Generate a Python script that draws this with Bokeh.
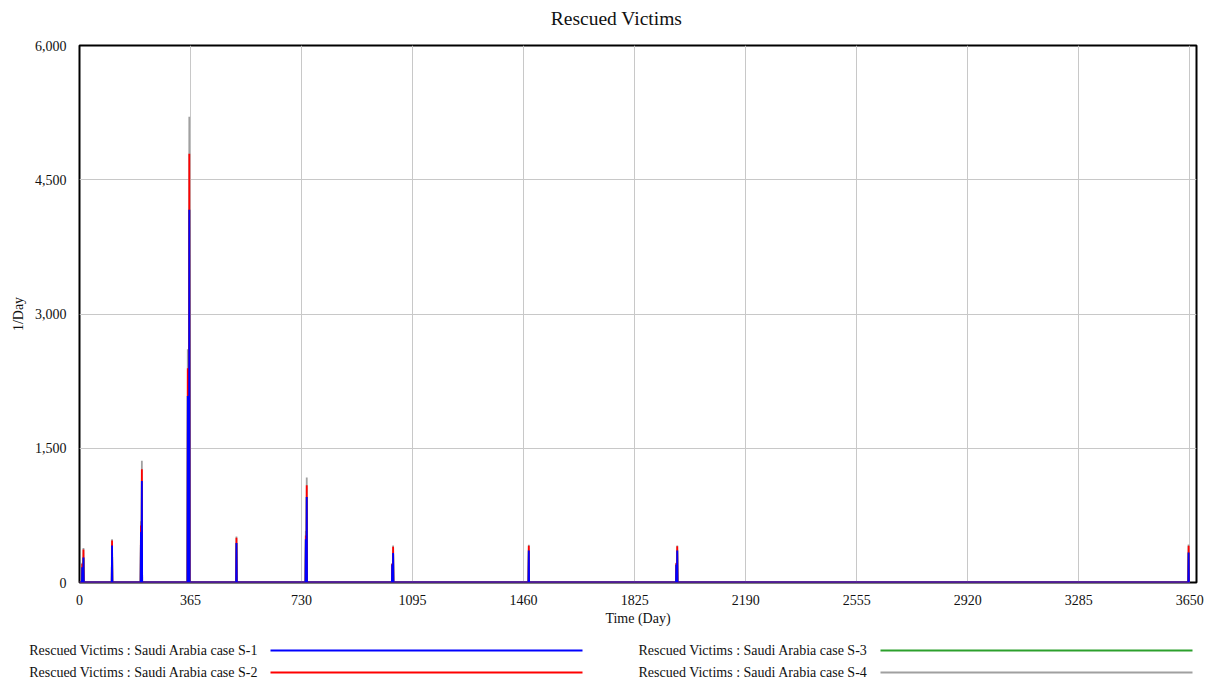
from bokeh.plotting import figure
from bokeh.models import Range1d, FixedTicker, NumeralTickFormatter
from bokeh.layouts import column
from bokeh.core.properties import value
from bokeh.embed import file_html
from bokeh.resources import INLINE

# ---- data ----
spike_days = [9, 13, 107, 202, 205, 356, 361, 516, 744, 747, 1028, 1031, 1477, 1962, 1965, 3646]
s1_vals = [170, 280, 414, 563, 1135, 2083, 4166, 440, 482, 955, 200, 330, 358, 198, 358, 336]
s2_vals = [210, 370, 470, 638, 1265, 2393, 4790, 500, 526, 1086, 210, 400, 410, 215, 405, 410]
s3_vals = [170, 280, 414, 563, 1135, 2083, 4166, 440, 482, 955, 200, 330, 358, 198, 358, 336]
s4_vals = [220, 385, 482, 683, 1359, 2606, 5205, 515, 575, 1172, 215, 414, 422, 220, 414, 425]
x_ticks = [0, 365, 730, 1095, 1460, 1825, 2190, 2555, 2920, 3285, 3650]
y_ticks = [0, 1500, 3000, 4500, 6000]
series_names = ["Rescued Victims : Saudi Arabia case S-1",
                "Rescued Victims : Saudi Arabia case S-2",
                "Rescued Victims : Saudi Arabia case S-3",
                "Rescued Victims : Saudi Arabia case S-4"]
title_text = "Rescued Victims"
colors = ["#0000ff", "#ff0000", "#2ca02c", "#a0a0a0"]
end_day = 3650

FONT = "Liberation Serif"
TXT = "#111111"


def spike_line(days, vals):
    xs, ys = [0], [0]
    for d, v in zip(days, vals):
        xs += [d - 1, d, d + 1]
        ys += [0, v, 0]
    xs.append(end_day)
    ys.append(0)
    return xs, ys


def bare(fig):
    fig.grid.visible = False
    fig.outline_line_color = None
    fig.background_fill_color = "white"
    fig.border_fill_color = "white"


# ---- title strip ----
tf = figure(width=1220, height=40, output_backend="svg", toolbar_location=None,
            x_range=Range1d(79, 1196), y_range=Range1d(40, 0),
            x_axis_location=None, y_axis_location=None,
            min_border_left=0, min_border_right=0, min_border_top=0, min_border_bottom=0)
bare(tf)
tf.text(x=[616], y=[18], text=[title_text], text_font=value(FONT), text_font_size="19.5px",
        text_align="center", text_baseline="middle", text_color=TXT)

# ---- main chart ----
p = figure(width=1220, height=597, output_backend="svg", toolbar_location=None,
           x_range=Range1d(0, 3672), y_range=Range1d(0, 6000),
           min_border_left=79, min_border_right=24, min_border_top=5, min_border_bottom=55)

all_vals = [s1_vals, s2_vals, s3_vals, s4_vals]
for i in [3, 2, 1, 0]:
    xs, ys = spike_line(spike_days, all_vals[i])
    p.line(xs, ys, line_color=colors[i], line_width=1.8)

p.xaxis.ticker = FixedTicker(ticks=x_ticks)
p.yaxis.ticker = FixedTicker(ticks=y_ticks)
p.yaxis.formatter = NumeralTickFormatter(format="0,0")
for ax in [p.xaxis[0], p.yaxis[0]]:
    ax.axis_line_color = None
    ax.major_tick_line_color = None
    ax.minor_tick_line_color = None
    ax.major_label_text_font = FONT
    ax.major_label_text_font_size = "14px"
    ax.major_label_text_color = TXT
    ax.axis_label_text_font = FONT
    ax.axis_label_text_font_size = "14px"
    ax.axis_label_text_font_style = "normal"
    ax.axis_label_text_color = TXT
p.xaxis.axis_label = "Time (Day)"
p.yaxis.axis_label = "1/Day"
p.xaxis.major_label_standoff = 6
p.xaxis.axis_label_standoff = 3
p.yaxis.major_label_standoff = 7
p.yaxis.axis_label_standoff = 6
p.xgrid.grid_line_color = "#c8c8c8"
p.ygrid.grid_line_color = "#c8c8c8"
p.outline_line_color = "black"
p.outline_line_width = 2
p.background_fill_color = "white"
p.border_fill_color = "white"

# ---- legend strip ----
leg_rows = [13, 35]
lg = figure(width=1220, height=50, output_backend="svg", toolbar_location=None,
            x_range=Range1d(79, 1196), y_range=Range1d(50, 0),
            x_axis_location=None, y_axis_location="left",
            min_border_left=0, min_border_right=0, min_border_top=0, min_border_bottom=0)
bare(lg)
lax = lg.yaxis[0]
lax.ticker = FixedTicker(ticks=leg_rows)
lax.major_label_overrides = {leg_rows[0]: series_names[0], leg_rows[1]: series_names[1]}
lax.axis_line_color = None
lax.major_tick_line_color = None
lax.minor_tick_line_color = None
lax.major_tick_out = 0
lax.major_tick_in = 0
lax.major_label_standoff = -179
lax.major_label_text_font = FONT
lax.major_label_text_font_size = "14px"
lax.major_label_text_color = TXT

lg.text(x=[638, 638], y=leg_rows, text=[series_names[2], series_names[3]], text_font=value(FONT),
        text_font_size="14px", text_baseline="middle", text_align="left", text_color=TXT)
lg.segment(x0=[270, 270, 880, 880], y0=leg_rows + leg_rows,
           x1=[582, 582, 1192, 1192], y1=leg_rows + leg_rows,
           line_color=colors, line_width=2)

layout = column(tf, p, lg, spacing=0)
open("out.html", "w").write(file_html(layout, INLINE))
